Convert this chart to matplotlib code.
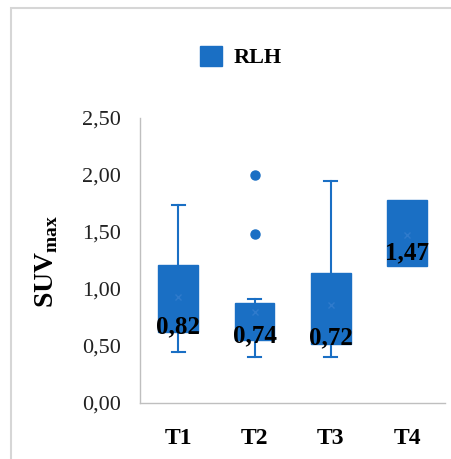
import matplotlib
matplotlib.use("Agg")
import matplotlib.pyplot as plt
from matplotlib.patches import Patch, Rectangle

# Box statistics per time point (SUVmax)
groups = ["T1", "T2", "T3", "T4"]
medians = [0.82, 0.74, 0.72, 1.47]
q1 = [0.62, 0.55, 0.52, 1.20]
q3 = [1.21, 0.88, 1.14, 1.78]
whisk_lo = [0.45, 0.40, 0.40, 1.20]
whisk_hi = [1.74, 0.91, 1.95, 1.78]
means = [0.93, 0.80, 0.86, 1.47]
outliers = [[], [1.48, 2.00], [], []]
y_ticks = [0.0, 0.5, 1.0, 1.5, 2.0, 2.5]

BLUE = "#1a6fc4"
AXIS = "#bfbfbf"

plt.rcParams["font.family"] = ["Liberation Serif", "DejaVu Serif"]
plt.rcParams["mathtext.fontset"] = "custom"
plt.rcParams["mathtext.rm"] = "Liberation Serif"
plt.rcParams["mathtext.bf"] = "Liberation Serif:bold"

fig = plt.figure(figsize=(4.52, 4.59), dpi=100)
ax = fig.add_axes([0.31, 0.122, 0.675, 0.621])

stats = []
for i, g in enumerate(groups):
    stats.append(dict(label=g, med=medians[i], q1=q1[i], q3=q3[i],
                      whislo=whisk_lo[i], whishi=whisk_hi[i],
                      mean=means[i], fliers=outliers[i]))

# no whisker caps where whiskers coincide with the box edges
caps = [0.17 if (whisk_hi[i] > q3[i] or whisk_lo[i] < q1[i]) else 0.0
        for i in range(len(groups))]

ax.bxp(stats, positions=range(1, 5), widths=0.52, capwidths=caps,
       patch_artist=True, showmeans=True,
       boxprops=dict(facecolor=BLUE, edgecolor=BLUE, linewidth=1),
       whiskerprops=dict(color=BLUE, linewidth=1.5),
       capprops=dict(color=BLUE, linewidth=1.5),
       medianprops=dict(color=BLUE, linewidth=1),
       meanprops=dict(marker="x", markeredgecolor="#2f7bcc", markersize=5,
                      markeredgewidth=1),
       flierprops=dict(marker="o", markerfacecolor=BLUE, markeredgecolor=BLUE,
                       markersize=6.5))

# Median value labels just below each median
for i, m in enumerate(medians):
    ax.annotate(("%.2f" % m).replace(".", ","), (i + 1, m), xytext=(0, -4),
                textcoords="offset points", ha="center", va="top",
                fontsize=18, fontweight="bold", color="black")

ax.set_xlim(0.5, 4.5)
ax.set_ylim(0, 2.5)
ax.set_yticks(y_ticks)
ax.set_yticklabels([("%.2f" % t).replace(".", ",") for t in y_ticks], fontsize=16)
ax.set_xticks(range(1, 5))
ax.set_xticklabels(groups, fontsize=17, fontweight="bold")
ax.tick_params(axis="y", length=0, pad=14, colors="#222222")
ax.tick_params(axis="x", length=0, pad=18, colors="black")
for side in ("top", "right"):
    ax.spines[side].set_visible(False)
for side in ("left", "bottom"):
    ax.spines[side].set_color(AXIS)
    ax.spines[side].set_linewidth(1)

fig.text(0.104, 0.43, r"$\mathbf{SUV}_{\mathbf{max}}$", rotation=90,
         ha="center", va="center", fontsize=20)

fig.legend(handles=[Patch(facecolor=BLUE, edgecolor=BLUE, label="RLH")],
           loc="center", bbox_to_anchor=(0.533, 0.876), frameon=False,
           handlelength=1.0, handleheight=1.0, handletextpad=0.55,
           prop=dict(size=16, weight="bold"))

# Outer chart-area frame (top and left edges visible)
fig.patches.append(Rectangle((11 / 452, -0.1), 1.2, 0.1 + (459 - 8) / 459,
                             transform=fig.transFigure, facecolor="none",
                             edgecolor="#d6d6d6", linewidth=1.5))

fig.savefig("out.png", dpi=100)
